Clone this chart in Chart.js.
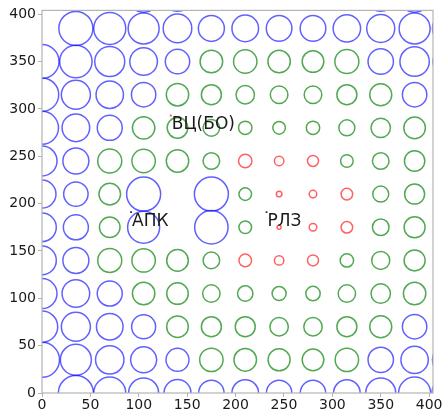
<!DOCTYPE html>
<html><head><meta charset="utf-8">
<script src="https://cdn.jsdelivr.net/npm/chart.js@4/dist/chart.umd.min.js"></script>
<style>html,body{margin:0;padding:0;background:#fff;}#wrap{width:447px;height:414px;}</style>
</head><body><div id="wrap"><canvas id="c" width="447" height="414"></canvas></div>
<script>
// grid coordinates
const xValues = [0,35,70,105,140,175,210,245,280,315,350,385,420];
const yValues = [0,35,70,105,140,175,210,245,280,315,350,385,420];
// bubble radii per row (bottom row first), null = no circle
const radii = [
  [null,17.5,16,15,13.5,12.7,13.3,12.7,12.7,13.3,15,16,16.5],
  [17.5,15.5,14.2,13,11.5,11.7,11.3,11,10.8,11.7,12.7,13.7,16],
  [15.7,14.5,13.3,12,10.8,10,10,9.2,9.2,10,11,12.2,null],
  [15,13.8,12.5,11.2,10.8,8.7,7.7,7,7.2,8.7,9.7,11.2,null],
  [14.3,13,12,11.7,10.8,8.3,6.3,4.7,5.5,6.7,9,10.5,null],
  [14.3,12.5,10.3,16,null,16.7,6.3,2,3.8,5.8,8.3,10.5,null],
  [14,12.2,10.8,17,null,17,6.3,2.8,3.8,5.8,8,10,null],
  [15,13,12,11.7,11.2,8.3,6.7,4.7,5.5,6.3,8.3,10.2,null],
  [16.5,13.8,12.5,11.2,10.3,8.3,6.7,6.3,6.7,8,9.7,10.8,null],
  [16.7,14.5,13.7,12.2,11.2,10,9.2,8.8,8.8,10,11,12.2,null],
  [17,16.2,15,13.8,12.2,11.3,11.7,11.2,10.8,12,12.7,14.7,15.5],
  [null,17,16,15.5,14.3,13,13.3,12.8,12.8,13.7,14,15.5,16],
  [null,null,null,17,16,null,null,null,null,null,16,17,null]
];
// class per cell: B = blue, G = green, R = red, - = none
const classes = [
  "-BBBBBBBBBBBB",
  "BBBBBGGGGGBBB",
  "BBBBGGGGGGGB-",
  "BBBGGGGGGGGG-",
  "BBGGGGRRRGGG-",
  "BBGB-BGRRRGG-",
  "BBGB-BGRRRGG-",
  "BBGGGGRRRGGG-",
  "BBBGGGGGGGGG-",
  "BBBBGGGGGGGB-",
  "BBBBBGGGGGBBB",
  "-BBBBBBBBBBBB",
  "---BB-----BB-"
];
// stations
const stationNames = ["ВЦ(БО)", "АПК", "РЛЗ"];
const stationX = [133, 92, 232];
const stationY = [293, 191, 191];
const stationKind = ["main", "other", "other"];
const xTicks = [0,50,100,150,200,250,300,350,400];
const yTicks = [0,50,100,150,200,250,300,350,400];

Chart.defaults.font.family = "'DejaVu Sans', sans-serif";

const classColors = {B: "rgba(0,0,255,0.62)", G: "rgba(0,128,0,0.68)", R: "rgba(255,0,0,0.62)"};
const groups = {B: [], G: [], R: []};
for (let i = 0; i < yValues.length; i++) {
  for (let j = 0; j < xValues.length; j++) {
    const c = classes[i][j];
    const r = radii[i][j];
    if (c === "-" || r == null) continue;
    groups[c].push({x: xValues[j], y: yValues[i], r: r});
  }
}
const datasets = ["B", "G", "R"].map(k => ({
  type: "bubble",
  data: groups[k],
  borderColor: classColors[k],
  backgroundColor: "rgba(0,0,0,0)",
  borderWidth: 1.5,
  hoverBorderWidth: 1.5,
  clip: 0
}));
datasets.push({
  type: "scatter",
  data: stationX.map((x, i) => ({x: x, y: stationY[i]})),
  pointRadius: 1.3,
  pointStyle: "rect",
  pointBackgroundColor: stationKind.map(k => k === "main" ? "rgba(255,60,60,0.9)" : "#333"),
  pointBorderWidth: 0,
  clip: 0
});

const framePlugin = {
  id: "frame",
  afterDatasetsDraw(chart) {
    const ctx = chart.ctx, a = chart.chartArea;
    ctx.save();
    ctx.strokeStyle = "#b4b4b4";
    ctx.lineWidth = 1.2;
    ctx.strokeRect(a.left, a.top, a.right - a.left, a.bottom - a.top);
    const meta = chart.getDatasetMeta(3);
    ctx.fillStyle = "#1a1a1a";
    ctx.font = "17px 'DejaVu Sans', sans-serif";
    ctx.textBaseline = "top";
    ctx.textAlign = "left";
    meta.data.forEach((pt, i) => {
      ctx.fillText(stationNames[i], pt.x + 1, pt.y + 1);
    });
    ctx.restore();
  }
};

new Chart(document.getElementById("c"), {
  data: {datasets: datasets},
  options: {
    responsive: false,
    animation: false,
    events: [],
    layout: {autoPadding: false, padding: {top: 10, right: 14, left: 0, bottom: 0}},
    plugins: {legend: {display: false}, tooltip: {enabled: false}},
    scales: {
      x: {
        type: "linear", min: 0, max: 404,
        afterBuildTicks: s => { s.ticks = xTicks.map(v => ({value: v})); },
        afterFit: s => { s.height = 21; },
        grid: {display: true, drawOnChartArea: false, drawTicks: true, tickLength: 4, color: "#b4b4b4"},
        border: {display: false},
        ticks: {font: {size: 14}, color: "#1a1a1a", padding: 0, maxRotation: 0, autoSkip: false}
      },
      y: {
        type: "linear", min: 0, max: 404,
        afterBuildTicks: s => { s.ticks = yTicks.map(v => ({value: v})); },
        afterFit: s => { s.width = 42; },
        grid: {display: true, drawOnChartArea: false, drawTicks: true, tickLength: 4, color: "#b4b4b4"},
        border: {display: false},
        ticks: {font: {size: 14}, color: "#1a1a1a", padding: 2, autoSkip: false}
      }
    }
  },
  plugins: [framePlugin]
});
</script></body></html>
